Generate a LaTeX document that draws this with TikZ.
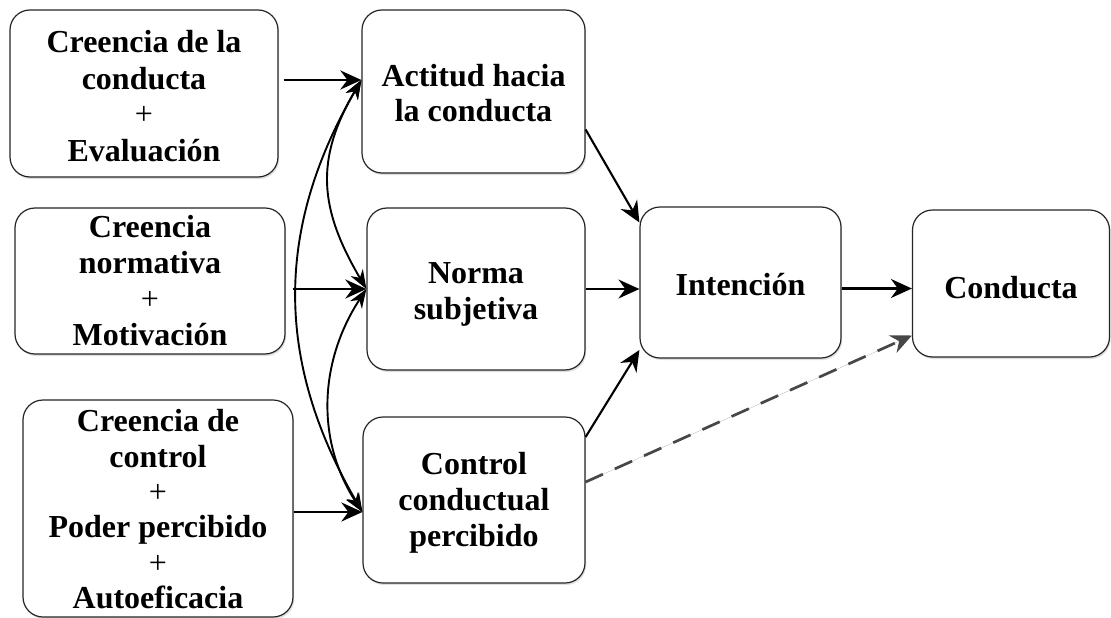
\documentclass[tikz,border=0pt]{standalone}
\usepackage{fontspec}
\setmainfont{Liberation Serif}
\usetikzlibrary{arrows.meta,shadows}
\newcommand{\bxt}[2][5pt]{\raisebox{-#1}[\height][\depth]{\begin{tabular}{@{}c@{}}#2\end{tabular}}}
\begin{document}
\begin{tikzpicture}[x=1pt,y=-1pt,
  box/.style={draw=black!85, line width=1.2pt, rounded corners=20pt, fill=white,
    inner sep=0pt,
    font=\fontsize{32}{36}\selectfont\bfseries,
    drop shadow={shadow xshift=1.2pt,shadow yshift=-2pt,opacity=0.25}},
  arr/.style={line width=2.1pt, -{Stealth[length=21pt,width=19pt,inset=7pt]}},
  thickarr/.style={line width=2.8pt, -{Stealth[length=21pt,width=19pt,inset=7pt]}},
  dbl/.style={line width=1.9pt, {Stealth[length=19pt,width=14pt,inset=6pt]}-{Stealth[length=19pt,width=14pt,inset=6pt]}},
  dasharr/.style={arr, draw=black!72, fill=black!72, line width=2.7pt, dash pattern=on 19pt off 13pt}
]
\useasboundingbox (0,0) rectangle (1111,618);
\fill[white] (0,0) rectangle (1111,618);

\node[box, minimum width=268pt, minimum height=167pt] (A) at (144,93.5)
  {\bxt[6.3pt]{Creencia de la\\conducta\\{\mdseries +}\\Evaluación}};
\node[box, minimum width=270pt, minimum height=146pt] (B) at (150,281)
  {\bxt[3.1pt]{Creencia\\normativa\\{\mdseries +}\\Motivación}};
\node[box, minimum width=270pt, minimum height=217pt,
  font=\fontsize{32}{35.3}\selectfont\bfseries] (C) at (158,508.5)
  {\bxt[4.5pt]{Creencia de\\control\\{\mdseries +}\\Poder percibido\\{\mdseries +}\\Autoeficacia}};

\node[box, minimum width=223pt, minimum height=163pt] (D) at (473.5,91.5)
  {\bxt[5.3pt]{Actitud hacia\\la conducta}};
\node[box, minimum width=218pt, minimum height=162pt] (E) at (476,289)
  {\bxt[5.1pt]{Norma\\subjetiva}};
\node[box, minimum width=222pt, minimum height=166pt] (F) at (474,500)
  {\bxt[2.8pt]{Control\\conductual\\percibido}};

\node[box, minimum width=201pt, minimum height=151pt] (G) at (740.5,282.5)
  {\bxt[5.3pt]{Intención}};
\node[box, minimum width=197pt, minimum height=147pt] (H) at (1011,283.5)
  {\bxt[7.3pt]{Conducta}};

% left-to-middle arrows
\coordinate (dW) at ([yshift=11.5pt]D.west);
\coordinate (eW) at (E.west);
\coordinate (fW) at ([yshift=-12pt]F.west);
\draw[thickarr] ([xshift=5pt]A.east |- dW) -- (dW);
\draw[thickarr] ([xshift=7pt]B.east |- eW) -- (eW);
\draw[thickarr] (C.east |- fW) -- (fW);

% correlation arcs
\draw[dbl] (dW) .. controls +(-47,80) and +(-47,-80) .. (eW);
\draw[dbl] (dW) .. controls +(-87,150) and +(-87,-150) .. (fW);
\draw[dbl] (eW) .. controls +(-47,72) and +(-47,-72) .. (fW);

% middle-to-intention arrows
\draw[arr] ([yshift=-38pt]D.east) -- ([yshift=60pt]G.west);
\draw[arr] (E.east) -- (E.east -| G.west);
\draw[arr] ([yshift=63pt]F.east) -- ([yshift=-67.5pt]G.west);
\draw[arr] ([yshift=-6pt]G.east) -- ([yshift=-6pt]G.east -| H.west);
\draw[dasharr] ([yshift=18pt]F.east) -- ([yshift=-52pt]H.west);
\end{tikzpicture}
\end{document}
